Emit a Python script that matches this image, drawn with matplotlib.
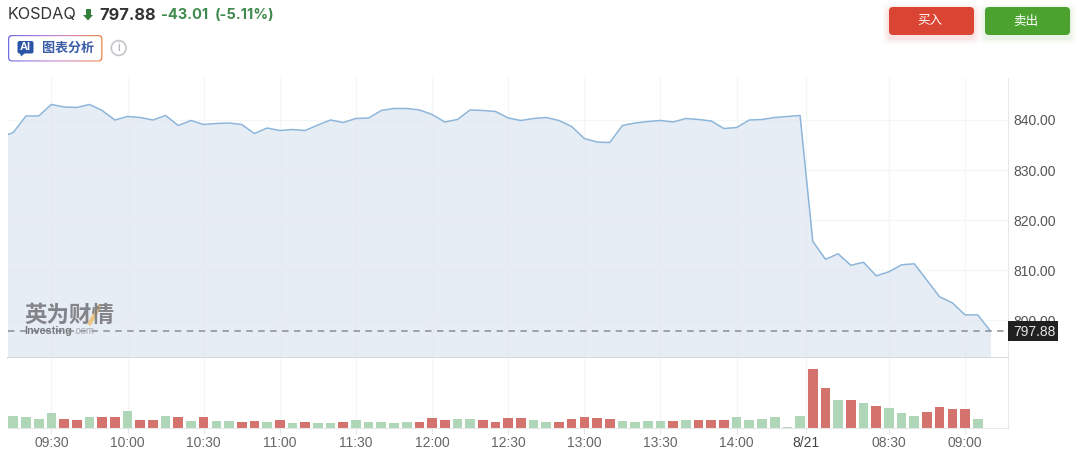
import numpy as np
import matplotlib
matplotlib.use("Agg")
import matplotlib.pyplot as plt
from matplotlib.colors import LinearSegmentedColormap
from matplotlib.patches import FancyBboxPatch, Circle, Polygon

plt.rcParams["font.family"] = ["Liberation Sans", "Noto Sans CJK SC", "DejaVu Sans"]

# 5 dakikalik veriler, ilk deger pencerenin solunda kaliyor
price = [
    836.6, 837.5, 840.8, 840.8, 843.1, 842.6, 842.5, 843.1, 841.9, 840.0,
    840.7, 840.5, 840.0, 840.9, 838.9, 839.9, 839.1, 839.3, 839.4, 839.1,
    837.3, 838.4, 837.9, 838.1, 837.9, 839.0, 840.0, 839.5, 840.3, 840.4,
    841.9, 842.3, 842.3, 842.0, 841.1, 839.6, 840.1, 842.0, 841.9, 841.7,
    840.4, 839.9, 840.3, 840.5, 839.9, 838.7, 836.3, 835.6, 835.5, 838.9,
    839.4, 839.7, 839.9, 839.6, 840.3, 840.1, 839.8, 838.3, 838.5, 840.0,
    840.1, 840.5, 840.7, 840.9, 815.8, 812.2, 813.3, 811.0, 811.6, 808.9,
    809.7, 811.1, 811.3, 808.0, 804.7, 803.5, 801.1, 801.1, 797.88,
]
volume = [
    11.7, 10.7, 9.3, 14.7, 9.3, 8.3, 10.7, 10.7, 10.7, 17.0,
    8.3, 8.3, 11.7, 10.7, 7.3, 10.7, 7.3, 7.3, 6.3, 7.3,
    6.3, 8.3, 5.0, 6.3, 5.0, 5.0, 6.3, 8.3, 6.0, 6.0,
    5.0, 6.0, 6.0, 10.3, 8.3, 9.3, 9.3, 8.3, 6.0, 10.3,
    10.3, 8.3, 6.0, 6.0, 9.3, 11.3, 10.3, 9.3, 7.0, 6.0,
    7.0, 7.0, 7.0, 8.3, 8.3, 8.3, 8.3, 11.3, 8.3, 9.3,
    11.3, 0.7, 12.3, 59.3, 40.3, 28.3, 28.3, 25.3, 22.0, 20.0,
    14.7, 12.3, 15.7, 21.0, 19.0, 19.0, 9.3,
]
# g = yesil, r = kirmizi
volume_side = [
    "g", "g", "g", "g", "r", "r", "g", "r", "r", "g",
    "r", "r", "g", "r", "g", "r", "g", "g", "r", "r",
    "g", "r", "g", "r", "g", "g", "r", "g", "g", "g",
    "g", "g", "r", "r", "r", "g", "g", "r", "r", "r",
    "r", "g", "g", "r", "r", "r", "r", "r", "g", "g",
    "g", "g", "r", "g", "r", "r", "r", "g", "g", "g",
    "g", "g", "g", "r", "r", "g", "r", "g", "r", "g",
    "g", "g", "r", "r", "r", "r", "g",
]
price_ticks = [800, 810, 820, 830, 840]
time_ticks = [3, 9, 15, 21, 27, 33, 39, 45, 51, 57, 62.5, 69, 75]
time_labels = ["09:30", "10:00", "10:30", "11:00", "11:30", "12:00", "12:30",
               "13:00", "13:30", "14:00", "8/21", "08:30", "09:00"]
last_price = 797.88

W, H = 1080, 459
fig = plt.figure(figsize=(W / 100, H / 100), dpi=100, facecolor="white")


def box(left, top, right, bottom):
    return [left / W, 1 - bottom / H, (right - left) / W, (bottom - top) / H]


# x ekseni: cubuk sirasi -> piksel 13.3 + 12.69 * i
x_lo = (7.5 - 13.3) / 12.69
x_hi = (1008 - 13.3) / 12.69
grid_c = "#f4f5f7"

ax = fig.add_axes(box(7.5, 78, 1008, 357.5))
xs = np.arange(-1, len(price) - 1)
ax.fill_between(xs, price, 790, color="#e0e7f2", alpha=0.75, lw=0, zorder=2)
ax.plot(xs, price, color="#8db6da", lw=1.1, zorder=3)
ax.axhline(last_price, color="#8a8e94", lw=1.1, dashes=(4.2, 3.6), zorder=4)
ax.set_xlim(x_lo, x_hi)
ax.set_ylim(840 - (357.5 - 120) / 5.01, 840 + (120 - 78) / 5.01)
ax.set_xticks(time_ticks)
ax.set_yticks(price_ticks)
ax.yaxis.tick_right()
ax.tick_params(axis="x", length=0, labelbottom=False)
ax.tick_params(axis="y", length=0, labelsize=10, labelcolor="#555555", pad=4)
ax.set_yticklabels([f"{v:.2f}" for v in price_ticks])
ax.grid(True, color=grid_c, lw=1, zorder=1)
for s in ["top", "left"]:
    ax.spines[s].set_visible(False)
ax.spines["right"].set_color("#e6e8ec")
ax.spines["bottom"].set_color("#d3d6db")
ax.spines["bottom"].set_linewidth(1.3)
ax.set_axisbelow(True)

vol = fig.add_axes(box(7.5, 357.5, 1008, 428))
colors = ["#b0d6b8" if s == "g" else "#d4736d" for s in volume_side]
vol.bar(np.arange(len(volume)), volume, width=0.76, color=colors, zorder=2)
vol.set_xlim(x_lo, x_hi)
vol.set_ylim(0, 70.5)
vol.set_xticks(time_ticks)
vol.set_xticklabels(time_labels, fontsize=10, color="#666666")
vol.get_xticklabels()[10].set_color("#444444")
vol.set_yticks([])
vol.tick_params(axis="x", length=4, color="#e6e8ec", pad=2)
vol.grid(True, axis="x", color=grid_c, lw=1, zorder=1)
vol.set_axisbelow(True)
for s in ["top", "left"]:
    vol.spines[s].set_visible(False)
vol.spines["right"].set_color("#e6e8ec")
vol.spines["bottom"].set_color("#e6e8ec")

# baslik, dugmeler ve filigran icin piksel katmani
top = fig.add_axes([0, 0, 1, 1], facecolor="none")
top.set_xlim(0, W)
top.set_ylim(H, 0)
top.axis("off")

head_font = ["Inter", "Liberation Sans"]
top.text(8, 15, "KOSDAQ", fontsize=11.7, color="#333333", va="center", family=head_font)
top.add_patch(Polygon([(83, 15), (93, 15), (88, 20.5)], color="#33803f", lw=0))
top.add_patch(Polygon([(85.5, 9), (90.5, 9), (90.5, 16), (85.5, 16)], color="#33803f", lw=0))
top.text(99, 15, "797.88", fontsize=11.8, weight="bold", color="#333333", va="center", family=head_font)
top.text(161, 15, "-43.01", fontsize=10.5, weight="bold", color="#3f8a4c", va="center", family=head_font)
top.text(215, 15, "(-5.11%)", fontsize=10.5, weight="bold", color="#3f8a4c", va="center", family=head_font)

# AI rozeti, kenarligi renk gecisli
grad = np.linspace(0, 1, 100).reshape(1, -1)
cmap = LinearSegmentedColormap.from_list("badge", ["#6f6be0", "#c98ad8", "#f08a4b"])
im = top.imshow(grad, extent=(7.5, 103, 62, 34.5), cmap=cmap, aspect="auto", zorder=2)
top.set_xlim(0, W)
top.set_ylim(H, 0)
edge = FancyBboxPatch((8, 35), 94.5, 26.5, boxstyle="round,pad=0,rounding_size=4",
                      fc="none", ec="none")
top.add_patch(edge)
im.set_clip_path(edge)
top.add_patch(FancyBboxPatch((9.2, 36.2), 92, 24.2, boxstyle="round,pad=0,rounding_size=3",
                             fc="white", ec="none", zorder=3))
top.add_patch(FancyBboxPatch((17.5, 41), 16, 12.5, boxstyle="round,pad=0,rounding_size=2",
                             fc="#2d55a5", ec="none", zorder=4))
top.add_patch(Polygon([(20, 53), (25, 53), (21, 56.5)], color="#2d55a5", lw=0, zorder=4))
top.text(25.5, 47.2, "AI", fontsize=8, weight="bold", color="white", ha="center", va="center", zorder=5)
top.text(42, 48, "图表分析", fontsize=9.4, weight="bold", color="#3b5ea6", va="center", zorder=4,
         family=["Noto Sans CJK SC"])
top.add_patch(Circle((118.7, 48), 7.4, fc="white", ec="#c4c7cb", lw=1.2))
top.text(118.7, 48, "i", fontsize=8.5, color="#a9adb2", ha="center", va="center")

# dugmeler, golge birkac kat
for x0, fc, shadow, label in [(889, "#da4533", "#e8867a", "买入"), (985, "#4ba22f", "#9fd08c", "卖出")]:
    for grow, a in [(6, 0.05), (4, 0.07), (2, 0.1)]:
        top.add_patch(FancyBboxPatch((x0 - grow, 7 + 3 - grow), 85 + 2 * grow, 28 + 2 * grow,
                                     boxstyle="round,pad=0,rounding_size=6",
                                     fc=shadow, ec="none", alpha=a))
    top.add_patch(FancyBboxPatch((x0, 7), 85, 28, boxstyle="round,pad=0,rounding_size=4",
                                 fc=fc, ec="none"))
    top.text(x0 + 41, 21, label, fontsize=9, color="white", ha="center", va="center",
             family=["Noto Sans CJK SC"])

# filigran
top.text(24, 315.5, "英为财情", fontsize=16.2, weight="bold", color="#77797d", va="center",
         alpha=0.9, family=["Noto Sans CJK SC"])
top.plot([90, 99], [323, 307], color="#eec27a", lw=3, alpha=0.9)
top.text(24, 331.5, "Investing", fontsize=7.8, weight="bold", color="#77797d", va="center")
top.text(73.5, 331.5, ".com", fontsize=7, color="#a5a8ac", va="center")

# son fiyat etiketi
top.add_patch(plt.Rectangle((1008, 321), 50, 20, fc="#202020", ec="none", zorder=5))
top.text(1034, 331.5, f"{last_price:.2f}", fontsize=10, color="#e6e6e6", ha="center", va="center", zorder=6)

fig.savefig("out.png", dpi=100)
